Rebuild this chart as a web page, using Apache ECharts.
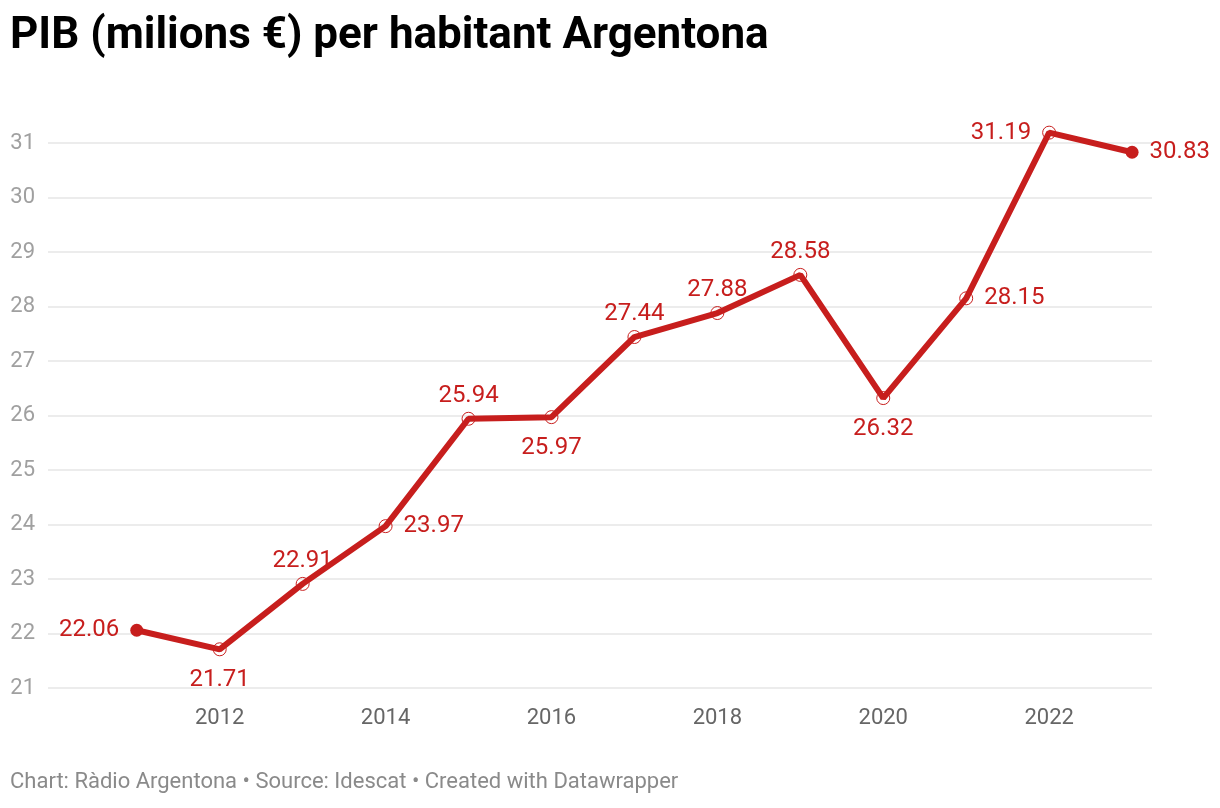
<!DOCTYPE html>
<html><head><meta charset="utf-8">
<script src="https://cdn.jsdelivr.net/npm/echarts@6/dist/echarts.min.js"></script>
<style>html,body{margin:0;padding:0;background:#fff}#c{width:1220px;height:808px}</style>
</head><body><div id="c"></div>
<script>
const years = [2011,2012,2013,2014,2015,2016,2017,2018,2019,2020,2021,2022,2023];
const values = [22.06,21.71,22.91,23.97,25.94,25.97,27.44,27.88,28.58,26.32,28.15,31.19,30.83];
const xTickLabels = [2012,2014,2016,2018,2020,2022];
const yTicks = [21,22,23,24,25,26,27,28,29,30,31];

const labelPos = ['left','bottom','top','right','top','bottom','top','top','top','bottom','right','left','right'];
const red = '#c71e1d';
const data = years.map((y,i)=>{
  const end = i===0 || i===years.length-1;
  const pos = labelPos[i];
  return {
    value:[y, values[i]],
    symbolSize: 13,
    itemStyle: end ? {color:red, borderColor:red, borderWidth:0} : {color:'rgba(255,255,255,0)', borderColor:red, borderWidth:1},
    label:{position:pos, distance: pos==='top' ? 4 : (pos==='bottom' ? 12 : 11)}
  };
});
const chart = echarts.init(document.getElementById('c'));
chart.setOption({
  animation:false,
  textStyle:{fontFamily:'Roboto'},
  title:{text:'PIB (milions €) per habitant Argentona', left:5, top:10,
    textStyle:{fontFamily:'Roboto', fontWeight:'bold', fontSize:44, color:'#000'}},
  graphic:[{type:'text', left:10, top:771, style:{text:'Chart: Ràdio Argentona • Source: Idescat • Created with Datawrapper', fontFamily:'Roboto', fontSize:22, fill:'#8a8a8a'}}],
  grid:{left:48, right:68, top:143, bottom:120, containLabel:false, outerBoundsMode:'none'},
  xAxis:{type:'value', min:2009.93, max:2023.24,
    axisLine:{show:false}, axisTick:{show:false}, splitLine:{show:false},
    axisLabel:{customValues:xTickLabels, color:'#666', fontSize:22, margin:19, fontFamily:'Roboto', formatter:v=>String(v)}},
  yAxis:{type:'value', min:yTicks[0], max:yTicks[yTicks.length-1], interval:1,
    axisLine:{show:false}, axisTick:{show:false},
    splitLine:{lineStyle:{color:'#e6e6e6', width:1.5}},
    axisLabel:{color:'#a0a0a0', fontSize:22, margin:13, align:'right', fontFamily:'Roboto',
      formatter:v=>String(v)}},
  series:[{type:'line', data:data, symbol:'circle', showAllSymbol:true, clip:false,
    lineStyle:{color:red, width:6}, z:3,
    label:{show:true, color:red, fontSize:24, fontFamily:'Roboto', formatter:p=>p.value[1].toFixed(2)}
  }]
});
</script></body></html>
